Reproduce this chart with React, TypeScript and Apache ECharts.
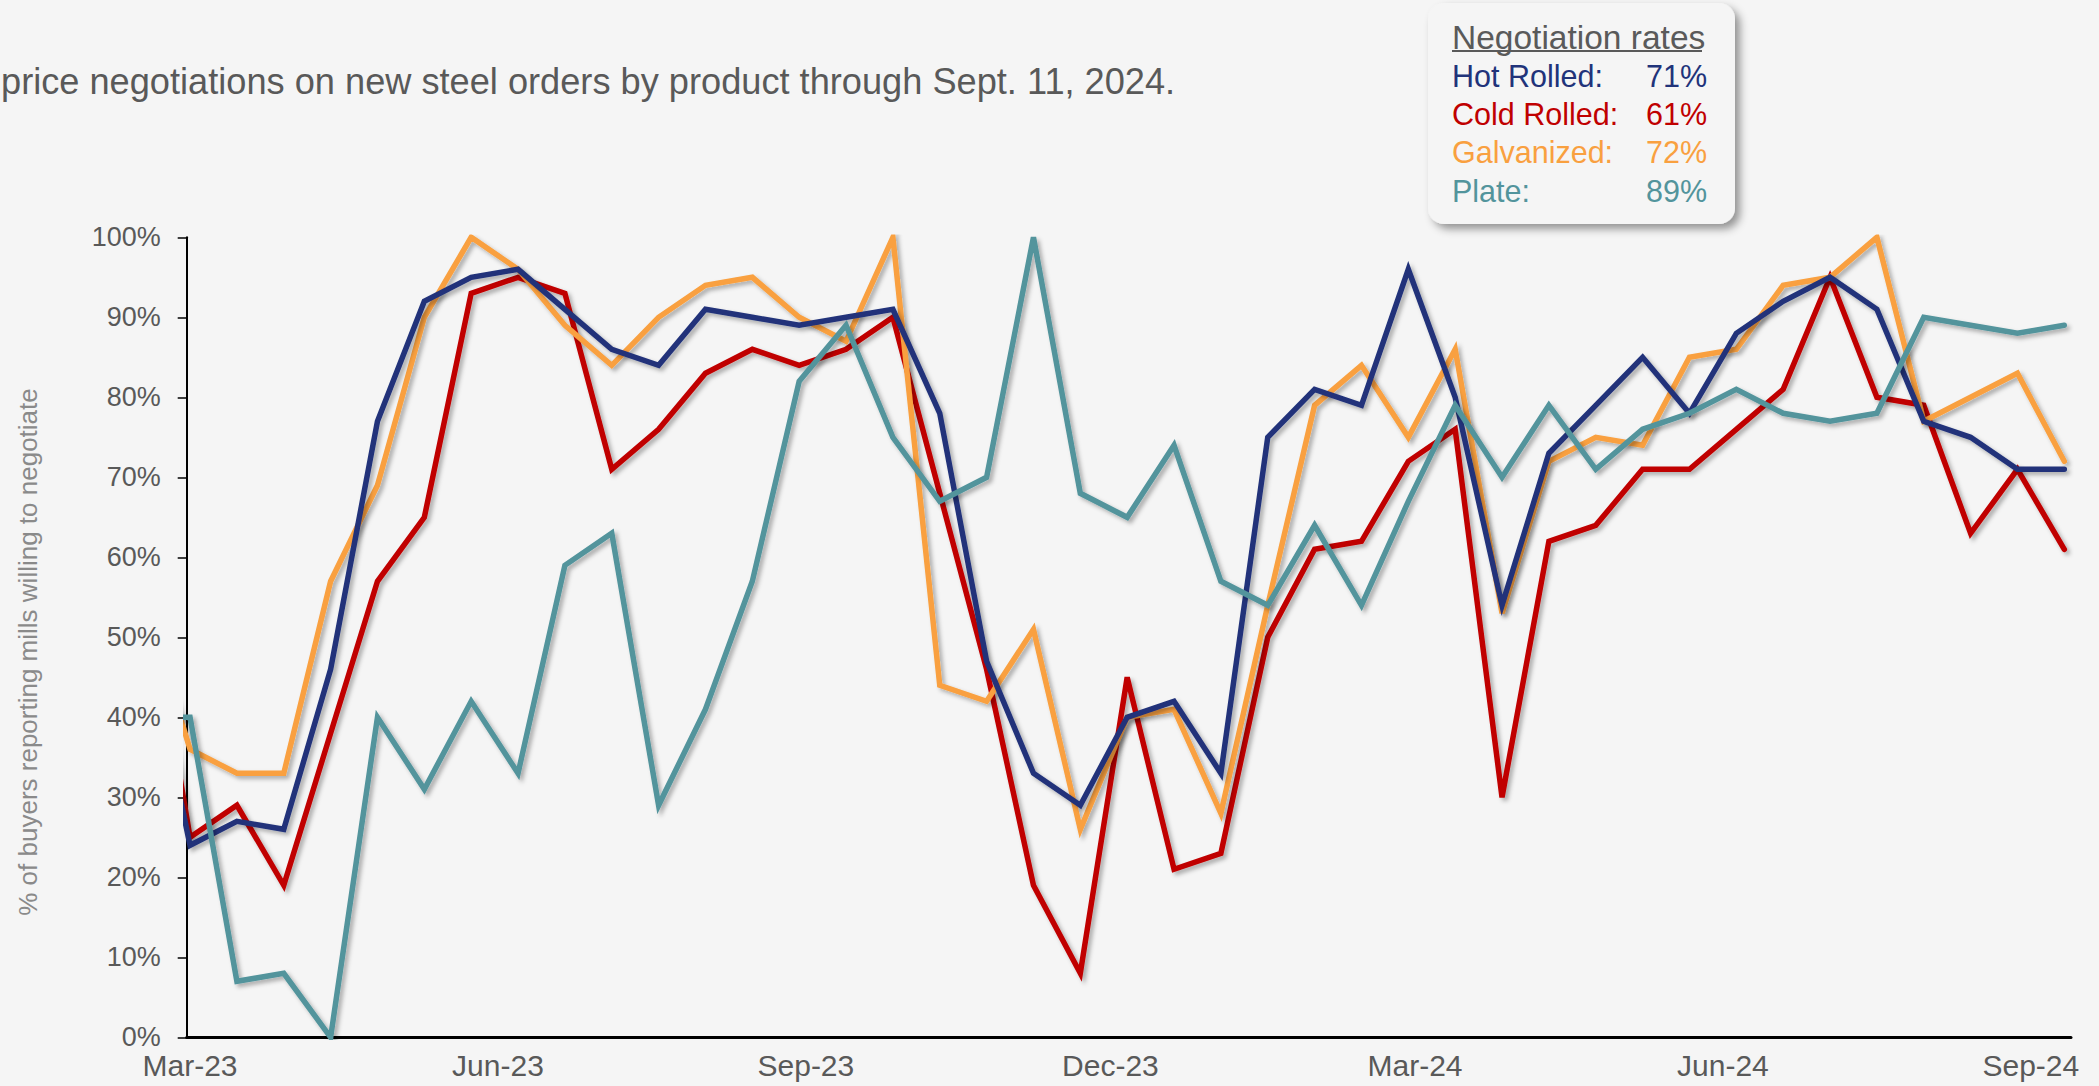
import React, { useEffect, useRef } from "react";
import * as echarts from "echarts";

// Survey dates (the first one lies just before the axis start and is clipped)
const surveyDates = [
  "2023-02-15", "2023-03-01", "2023-03-15", "2023-03-29", "2023-04-12", "2023-04-26",
  "2023-05-10", "2023-05-24", "2023-06-07", "2023-06-21", "2023-07-05", "2023-07-19",
  "2023-08-02", "2023-08-16", "2023-08-30", "2023-09-13", "2023-09-27", "2023-10-11",
  "2023-10-25", "2023-11-08", "2023-11-22", "2023-12-06", "2023-12-20", "2024-01-03",
  "2024-01-17", "2024-01-31", "2024-02-14", "2024-02-28", "2024-03-13", "2024-03-27",
  "2024-04-10", "2024-04-24", "2024-05-08", "2024-05-22", "2024-06-05", "2024-06-19",
  "2024-07-03", "2024-07-17", "2024-07-31", "2024-08-14", "2024-08-28", "2024-09-11",
];

const hotRolled = [
  52, 24, 27, 26, 46, 77, 92, 95, 96, 91, 86, 84,
  91, 90, 89, 90, 91, 78, 47, 33, 29, 40,
  42, 33, 75, 81, 79, 96, 80, 54, 73, 79,
  85, 78, 88, 92, 95, 91, 77, 75, 71, 71,
];
const coldRolled = [
  60, 25, 29, 19, 38, 57, 65, 93, 95, 93, 71, 76,
  83, 86, 84, 86, 90, 68, 46, 19, 8, 45,
  21, 23, 50, 61, 62, 72, 76, 30, 62, 64,
  71, 71, 76, 81, 95, 80, 79, 63, 71, 61,
];
const galvanized = [
  55, 36, 33, 33, 57, 69, 90, 100, 96, 89, 84, 90,
  94, 95, 90, 87, 100, 44, 42, 51, 26, 40,
  41, 28, 54, 79, 84, 75, 86, 53, 72, 75,
  74, 85, 86, 94, 95, 100, 77, 80, 83, 72,
];
const plate = [
  40, 40, 7, 8, 0, 40, 31, 42, 33, 59, 63, 29,
  41, 57, 82, 89, 75, 67, 70, 100, 68, 65,
  74, 57, 54, 64, 54, 67, 79, 70, 79, 71,
  76, 78, 81, 78, 77, 78, 90, 89, 88, 89,
];

const xLabelDates = ["2023-03-01", "2023-06-01", "2023-09-01", "2023-12-01", "2024-03-01", "2024-06-01", "2024-09-01"];
const xMinDate = "2023-02-28";
const xMaxDate = "2024-09-13";
const monthNames = ["Jan", "Feb", "Mar", "Apr", "May", "Jun", "Jul", "Aug", "Sep", "Oct", "Nov", "Dec"];

const seriesNames = ["Hot Rolled", "Cold Rolled", "Galvanized", "Plate"];
const legendLabels = ["Hot Rolled:", "Cold Rolled:", "Galvanized:", "Plate:"];
const legendValues = ["71%", "61%", "72%", "89%"];
const legendTitle = "Negotiation rates";
const titleText = "price negotiations on new steel orders by product through Sept. 11, 2024.";
const yAxisTitle = "% of buyers reporting mills willing to negotiate";

const COLORS = ["#21337a", "#c00000", "#f9a03f", "#52949c"];
const FONT = "'Liberation Sans', Arial, Helvetica, sans-serif";

export default function App() {
  const ref = useRef<HTMLDivElement>(null);

  useEffect(() => {
    document.body.style.margin = "0";
    document.body.style.background = "#f5f5f5";
    const chart = echarts.init(ref.current!, undefined, { renderer: "svg" });
    const ts = surveyDates.map((d) => Date.parse(d));
    const values = [hotRolled, coldRolled, galvanized, plate];
    const mk = (i: number) => ({
      name: seriesNames[i],
      type: "line",
      showSymbol: false,
      symbol: "none",
      clip: true,
      data: ts.map((t, k) => [t, values[i][k]]),
      lineStyle: {
        color: COLORS[i],
        width: 5.5,
        join: "miter",
        cap: "round",
        shadowColor: "rgba(0,0,0,0.3)",
        shadowBlur: 4,
        shadowOffsetX: 3,
        shadowOffsetY: 3,
      },
      itemStyle: { color: COLORS[i] },
    });
    const drawOrder = [1, 2, 0, 3];

    const legendY = [75.5, 113.8, 152.2, 190.5];
    const legendEls: any[] = [
      {
        type: "rect",
        shape: { x: 1428, y: 3, width: 307, height: 221, r: 16 },
        style: {
          fill: "#f5f5f5",
          shadowBlur: 9,
          shadowOffsetX: 5,
          shadowOffsetY: 5,
          shadowColor: "rgba(0,0,0,0.4)",
        },
      },
      {
        type: "text",
        x: 1452,
        y: 37,
        style: { text: legendTitle, fill: "#5a5a5a", fontSize: 33.5, fontFamily: FONT, align: "left", verticalAlign: "middle" },
      },
      {
        type: "line",
        shape: { x1: 1452, y1: 51, x2: 1702, y2: 51 },
        style: { stroke: "#5a5a5a", lineWidth: 2 },
      },
    ];
    legendLabels.forEach((lab, i) => {
      legendEls.push({
        type: "text",
        x: 1452,
        y: legendY[i],
        style: { text: lab, fill: COLORS[i], fontSize: 30.5, fontFamily: FONT, align: "left", verticalAlign: "middle" },
      });
      legendEls.push({
        type: "text",
        x: 1707,
        y: legendY[i],
        style: { text: legendValues[i], fill: COLORS[i], fontSize: 30.5, fontFamily: FONT, align: "right", verticalAlign: "middle" },
      });
    });

    chart.setOption({
      animation: false,
      backgroundColor: "#f5f5f5",
      textStyle: { fontFamily: FONT },
      grid: { left: 186.7, right: 28, top: 237.3, bottom: 48.7, containLabel: false },
      xAxis: {
        type: "value",
        min: Date.parse(xMinDate),
        max: Date.parse(xMaxDate),
        axisLine: { show: true, onZero: false, lineStyle: { color: "#000", width: 3 } },
        axisTick: { show: false },
        splitLine: { show: false },
        axisLabel: {
          customValues: xLabelDates.map((d) => Date.parse(d)),
          formatter: (v: number) => {
            const d = new Date(v);
            return monthNames[d.getUTCMonth()] + "-" + String(d.getUTCFullYear()).slice(2);
          },
          color: "#595959",
          fontSize: 30,
          fontFamily: FONT,
          margin: 13,
        },
      },
      yAxis: {
        type: "value",
        min: 0,
        max: 100,
        interval: 10,
        axisLine: { show: true, onZero: false, lineStyle: { color: "#000", width: 2 } },
        axisTick: { show: true, length: 9, lineStyle: { color: "#000", width: 1.5 } },
        splitLine: { show: false },
        axisLabel: { formatter: "{value}%", color: "#595959", fontSize: 27, fontFamily: FONT, margin: 26 },
      },
      series: drawOrder.map((i) => mk(i)),
      graphic: [
        {
          type: "text",
          x: 1,
          y: 81.4,
          style: { text: titleText, fill: "#595959", fontSize: 36.2, fontFamily: FONT, align: "left", verticalAlign: "middle" },
        },
        {
          type: "text",
          x: 27.7,
          y: 652,
          rotation: Math.PI / 2,
          style: { text: yAxisTitle, fill: "#8a8a8a", fontSize: 26, fontFamily: FONT, align: "center", verticalAlign: "middle" },
        },
        ...legendEls,
      ],
    });
    return () => chart.dispose();
  }, []);

  return (
    <div
      ref={ref}
      style={{ position: "absolute", left: 0, top: 0, width: 2099, height: 1086, background: "#f5f5f5" }}
    />
  );
}
